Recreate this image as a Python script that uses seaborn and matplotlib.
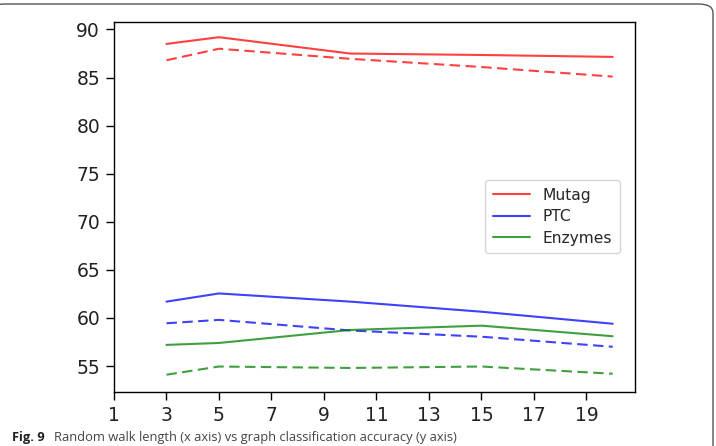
import matplotlib
matplotlib.use("Agg")
import matplotlib.pyplot as plt
import seaborn as sns
import pandas as pd
from matplotlib.patches import FancyBboxPatch
from matplotlib.lines import Line2D

walk_length = [3, 5, 10, 15, 20]
datasets = ["Mutag", "PTC", "Enzymes"]
mutag_solid = [88.5, 89.2, 87.5, 87.35, 87.15]
mutag_dashed = [86.8, 88.0, 86.95, 86.1, 85.1]
ptc_solid = [61.7, 62.55, 61.7, 60.65, 59.4]
ptc_dashed = [59.45, 59.8, 58.7, 58.05, 57.0]
enzymes_solid = [57.2, 57.4, 58.75, 59.2, 58.1]
enzymes_dashed = [54.1, 54.95, 54.8, 54.95, 54.2]
x_ticks = [1, 3, 5, 7, 9, 11, 13, 15, 17, 19]
y_ticks = [55, 60, 65, 70, 75, 80, 85, 90]
caption_bold = "Fig. 9"
caption_rest = "Random walk length (x axis) vs graph classification accuracy (y axis)"

sns.set_style("white")
plt.rcParams["font.family"] = ["DejaVu Sans"]

rows = []
series = {
    ("Mutag", "solid"): mutag_solid, ("Mutag", "dashed"): mutag_dashed,
    ("PTC", "solid"): ptc_solid, ("PTC", "dashed"): ptc_dashed,
    ("Enzymes", "solid"): enzymes_solid, ("Enzymes", "dashed"): enzymes_dashed,
}
for (name, kind), vals in series.items():
    for x, v in zip(walk_length, vals):
        rows.append({"length": x, "acc": v, "dataset": name, "kind": kind})
df = pd.DataFrame(rows)

palette = {"Mutag": "#ff0000", "PTC": "#0000ff", "Enzymes": "#008000"}

fig = plt.figure(figsize=(7.16, 4.46), dpi=100)
ax = fig.add_axes([114/716, 1 - 392/446, (635 - 114)/716, (392 - 22)/446])

sns.lineplot(data=df, x="length", y="acc", hue="dataset", style="kind",
             palette=palette, dashes={"solid": "", "dashed": (5, 2.6)},
             style_order=["solid", "dashed"], hue_order=datasets,
             linewidth=1.5, alpha=0.75, ax=ax, legend=False)

ax.set_xticks(x_ticks)
ax.set_yticks(y_ticks)
ax.set_xlim(1, 20.85)
ax.set_ylim(52.3, 90.78)
ax.set_xlabel("")
ax.set_ylabel("")
for s in ax.spines.values():
    s.set_color("black")
    s.set_linewidth(1.0)
ax.tick_params(axis="both", direction="out", length=6, width=1, color="black",
               labelsize=13.5, labelcolor="#222222", bottom=True, left=True, pad=4)

handles = [Line2D([0], [0], color=palette[d], lw=1.5, alpha=0.75) for d in datasets]
ax.legend(handles, datasets, loc="center right", bbox_to_anchor=(0.986, 0.474),
          fontsize=11.2, frameon=True, fancybox=True, edgecolor="#cccccc",
          handlelength=2.4, borderpad=0.5, labelspacing=0.42)

frame = FancyBboxPatch((-10/716, -0.2), (713 + 10)/716, 1.2 - 4/446 + 0.0,
                       boxstyle="round,pad=0,rounding_size=0.02",
                       transform=fig.transFigure, fill=False,
                       edgecolor="#555555", linewidth=1.0, clip_on=False)
fig.patches.append(frame)

fig.text(12/716, 1.5/446, caption_bold, fontsize=9.3, fontweight="bold",
         va="bottom", ha="left", color="#222222", family="Open Sans")
fig.text(54/716, 1.5/446, caption_rest, fontsize=9.3,
         va="bottom", ha="left", color="#444444", family="Open Sans")

fig.savefig("out.png", dpi=100)
